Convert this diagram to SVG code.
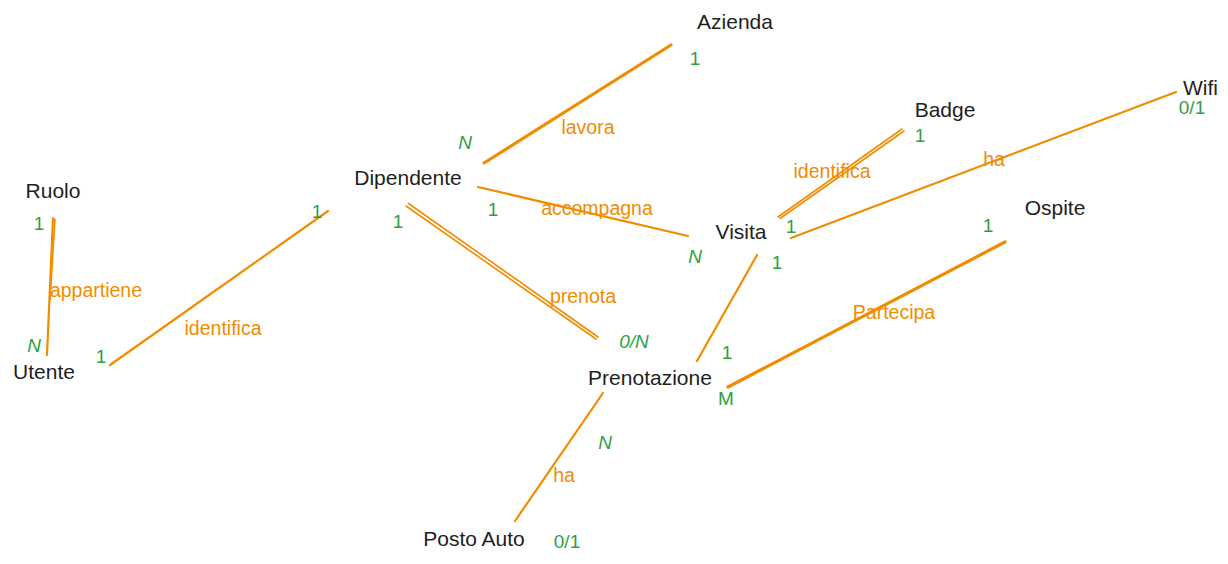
<svg xmlns="http://www.w3.org/2000/svg" width="1228" height="564" viewBox="0 0 1228 564">
<style>
.ent{font-family:"Liberation Sans",Arial,sans-serif;font-size:21px;fill:#1e1e1e;text-anchor:middle}
.rel{font-family:"Liberation Sans",Arial,sans-serif;font-size:19.5px;fill:#f08c00;text-anchor:middle}
.card{font-family:"Liberation Sans",Arial,sans-serif;font-size:19px;fill:#2f9e44;text-anchor:middle}
.ln{stroke:#f08c00;stroke-width:2.2;fill:none;stroke-linecap:round}
.thk{stroke-width:3.2}
.thin{stroke-width:1.6}
</style>
<rect width="1228" height="564" fill="#ffffff"/>
<g id="connectors">
  <g id="c-ruolo-utente">
    <line class="ln" x1="53" y1="218" x2="47" y2="355"/>
    <line class="ln thin" x1="55" y1="219" x2="50" y2="300"/>
    <text class="rel" x="96" y="297">appartiene</text>
    <text class="card" x="39" y="230">1</text>
    <text class="card" x="34" y="352" font-style="italic">N</text>
  </g>
  <g id="c-utente-dipendente">
    <line class="ln" x1="110" y1="365" x2="328" y2="211"/>
    <text class="rel" x="223" y="335">identifica</text>
    <text class="card" x="101" y="363">1</text>
    <text class="card" x="317" y="218">1</text>
  </g>
  <g id="c-dipendente-azienda">
    <line class="ln thk" x1="484" y1="163" x2="671" y2="45"/>
    <text class="rel" x="588" y="134">lavora</text>
    <text class="card" x="465" y="149" font-style="italic">N</text>
    <text class="card" x="695" y="65">1</text>
  </g>
  <g id="c-dipendente-visita">
    <line class="ln" x1="478" y1="187" x2="688" y2="236"/>
    <text class="rel" x="597" y="215">accompagna</text>
    <text class="card" x="493" y="216">1</text>
    <text class="card" x="695" y="263" font-style="italic">N</text>
  </g>
  <g id="c-dipendente-prenotazione">
    <line class="ln thin" x1="406" y1="206" x2="596" y2="339"/>
    <line class="ln thin" x1="408.5" y1="203.5" x2="598" y2="337"/>
    <text class="rel" x="583" y="303">prenota</text>
    <text class="card" x="398" y="228">1</text>
    <text class="card" x="634" y="348" font-style="italic">0/N</text>
  </g>
  <g id="c-visita-badge">
    <line class="ln thin" x1="778" y1="217" x2="902" y2="129"/>
    <line class="ln thin" x1="780" y1="218.5" x2="904" y2="131"/>
    <text class="rel" x="832" y="178">identifica</text>
    <text class="card" x="920" y="142">1</text>
    <text class="card" x="791" y="233">1</text>
  </g>
  <g id="c-visita-wifi">
    <line class="ln" x1="791" y1="238" x2="1176" y2="92"/>
    <text class="rel" x="994" y="166">ha</text>
    <text class="card" x="1192" y="114">0/1</text>
  </g>
  <g id="c-visita-prenotazione">
    <line class="ln" x1="757" y1="255" x2="697" y2="361"/>
    <text class="card" x="777" y="269">1</text>
    <text class="card" x="727" y="359">1</text>
  </g>
  <g id="c-prenotazione-ospite">
    <line class="ln thk" x1="728" y1="387" x2="1005" y2="242"/>
    <text class="rel" x="894" y="319">Partecipa</text>
    <text class="card" x="988" y="232">1</text>
    <text class="card" x="726" y="405">M</text>
  </g>
  <g id="c-prenotazione-posto">
    <line class="ln" x1="603" y1="393" x2="515" y2="521"/>
    <text class="rel" x="564" y="482">ha</text>
    <text class="card" x="605" y="449" font-style="italic">N</text>
    <text class="card" x="567" y="548">0/1</text>
  </g>
</g>
<g id="n-azienda"><text class="ent" x="735" y="29">Azienda</text></g>
<g id="n-ruolo"><text class="ent" x="53" y="198">Ruolo</text></g>
<g id="n-dipendente"><text class="ent" x="408" y="185">Dipendente</text></g>
<g id="n-utente"><text class="ent" x="44" y="379">Utente</text></g>
<g id="n-badge"><text class="ent" x="945" y="117">Badge</text></g>
<g id="n-wifi"><text class="ent" x="1183" y="95" style="text-anchor:start">Wifi</text></g>
<g id="n-visita"><text class="ent" x="741" y="239">Visita</text></g>
<g id="n-ospite"><text class="ent" x="1055" y="215">Ospite</text></g>
<g id="n-prenotazione"><text class="ent" x="650" y="385">Prenotazione</text></g>
<g id="n-posto-auto"><text class="ent" x="474" y="546">Posto Auto</text></g>
</svg>
